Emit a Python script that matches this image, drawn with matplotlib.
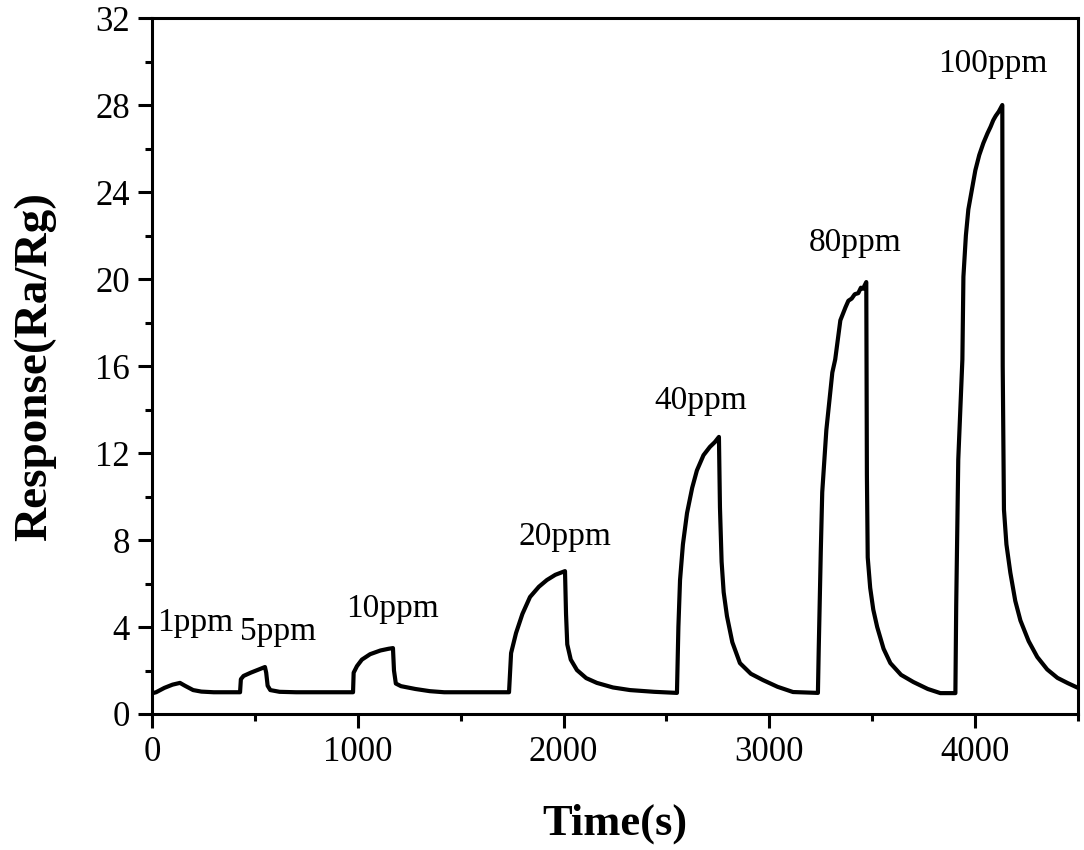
import matplotlib.pyplot as plt
import numpy as np
from matplotlib.ticker import MultipleLocator

# response curve (time in s, response Ra/Rg)
time_s = [0, 20, 60, 100, 136, 160, 200, 240, 300, 428,
          432, 445, 480, 520, 549, 555, 562, 575, 620, 700, 977,
          980, 996, 1020, 1060, 1110, 1150, 1171, 1176, 1185, 1210, 1280, 1350, 1420, 1735,
          1745, 1769, 1800, 1837, 1880, 1919, 1960, 2007, 2012, 2018, 2035, 2065, 2110,
          2162, 2240, 2323, 2440, 2541,
          2551, 2558, 2566, 2580, 2600, 2625, 2648, 2680, 2711, 2735, 2755, 2760, 2768,
          2778, 2794, 2820, 2857, 2910, 2969, 3040, 3115, 3236,
          3240, 3250, 3257, 3277, 3306, 3320, 3345, 3370, 3384, 3400, 3415, 3432, 3445,
          3455, 3471, 3474, 3478, 3490, 3505, 3524, 3555, 3588, 3640, 3700, 3770, 3831, 3904,
          3908, 3918, 3938, 3943, 3955, 3967, 4001, 4020, 4040, 4060, 4075, 4088, 4100,
          4115, 4132, 4134, 4140, 4152, 4171, 4195, 4220, 4260, 4302, 4350, 4400, 4450, 4500]
response = [0.95, 1.0, 1.2, 1.35, 1.43, 1.3, 1.1, 1.03, 1.0, 1.0,
            1.6, 1.75, 1.9, 2.05, 2.16, 1.9, 1.3, 1.1, 1.02, 1.0, 1.0,
            1.9, 2.2, 2.5, 2.75, 2.92, 3.0, 3.03, 2.0, 1.4, 1.28, 1.15, 1.05, 1.0, 1.0,
            2.8, 3.72, 4.6, 5.38, 5.85, 6.16, 6.4, 6.57, 4.6, 3.2, 2.5, 2.02, 1.65,
            1.43, 1.22, 1.1, 1.02, 0.97,
            0.97, 4.0, 6.16, 7.8, 9.24, 10.4, 11.2, 11.9, 12.28, 12.5, 12.74, 9.5, 7.0,
            5.6, 4.5, 3.3, 2.34, 1.85, 1.56, 1.25, 1.01, 0.97,
            3.0, 7.5, 10.2, 13.06, 15.7, 16.3, 18.1, 18.7, 19.0, 19.1, 19.3, 19.35, 19.6,
            19.55, 19.86, 11.0, 7.2, 5.8, 4.8, 4.0, 3.0, 2.34, 1.8, 1.47, 1.15, 0.96, 0.96,
            5.0, 11.7, 16.3, 20.1, 22.0, 23.2, 25.0, 25.7, 26.25, 26.7, 27.0, 27.3, 27.5,
            27.7, 28.0, 16.0, 9.4, 7.8, 6.5, 5.2, 4.3, 3.35, 2.62, 2.05, 1.66, 1.42, 1.2]

conc_labels = ["1ppm", "5ppm", "10ppm", "20ppm", "40ppm", "80ppm", "100ppm"]
label_t = [210, 612, 1171, 2008, 2669, 3418, 4088]
label_y = [4.2, 3.77, 4.83, 8.14, 14.4, 21.66, 29.9]

plt.rcParams['font.family'] = ['Liberation Serif', 'DejaVu Serif']

fig = plt.figure(figsize=(10.84, 8.5), dpi=100)
ax = fig.add_axes([0.1402, 0.16, 0.8543, 0.8188])

ax.plot(time_s, response, color="black", lw=3, solid_joinstyle="round")

for lab, tx, ty in zip(conc_labels, label_t, label_y):
    ax.text(tx, ty, lab, fontsize=24, ha="center", va="center")

ax.set_xlim(0, 4500)
ax.set_ylim(0, 32)
ax.xaxis.set_major_locator(MultipleLocator(1000))
ax.xaxis.set_minor_locator(MultipleLocator(500))
ax.yaxis.set_major_locator(MultipleLocator(4))
ax.yaxis.set_minor_locator(MultipleLocator(2))
ax.tick_params(which="major", direction="out", length=10, width=2.2, labelsize=25, pad=6)
ax.tick_params(which="minor", direction="out", length=5, width=2.2)
for s in ax.spines.values():
    s.set_linewidth(2.2)

ax.set_xlabel("Time(s)", fontsize=32, fontweight="bold", labelpad=25)
ax.set_ylabel("Response(Ra/Rg)", fontsize=34, fontweight="bold", labelpad=28)

fig.savefig("out.png", dpi=100)
